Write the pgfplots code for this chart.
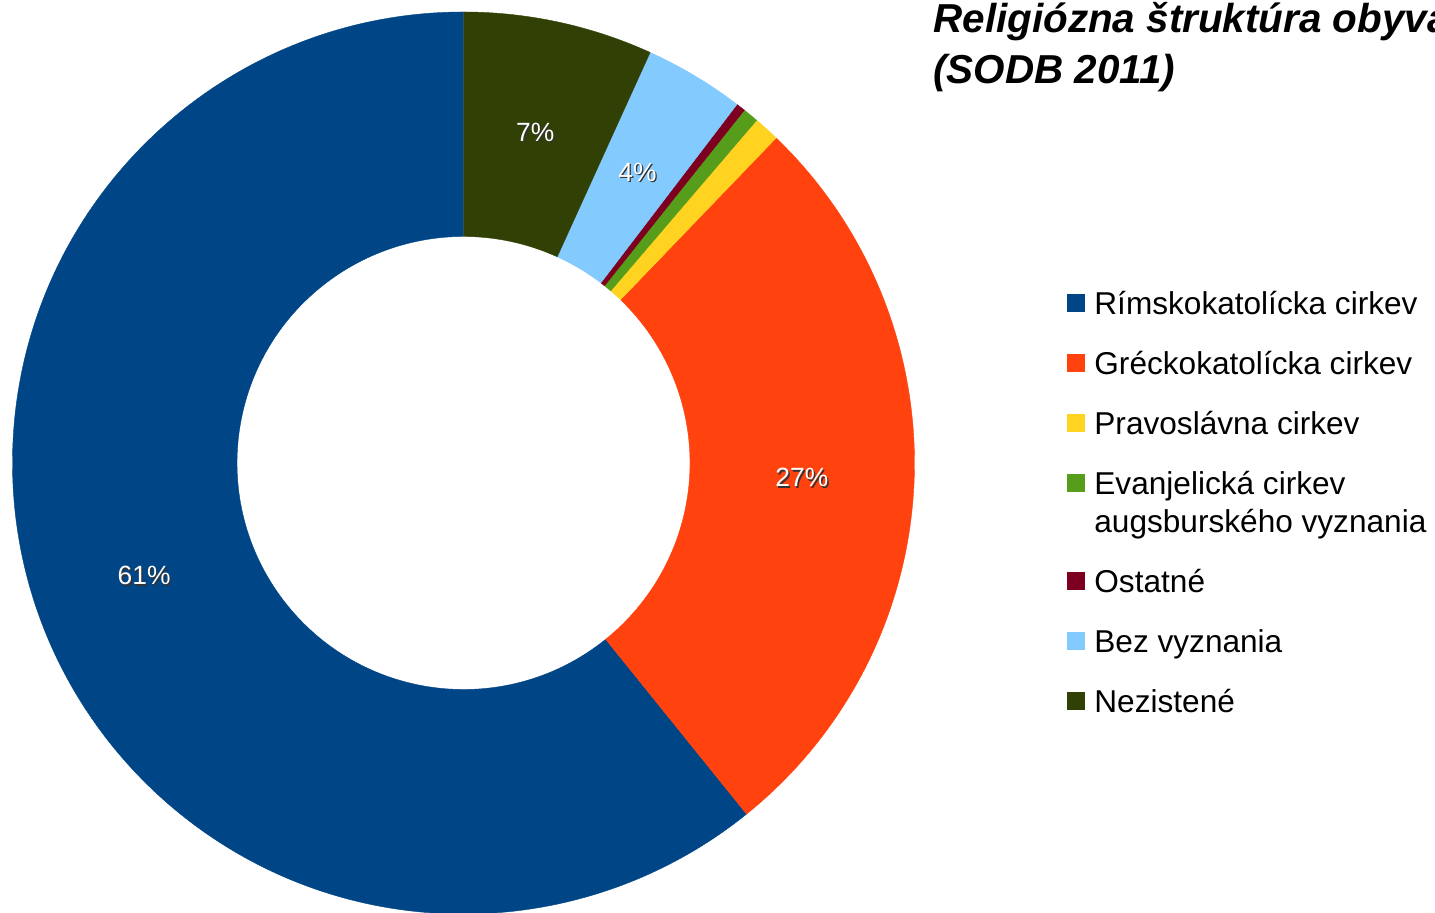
\documentclass[border=0pt]{standalone}
\usepackage{pgfplots}
\pgfplotsset{compat=1.18}
\usepackage{pgfplotstable}
\usepackage{fontspec}
\setmainfont{Liberation Sans}

\definecolor{rimsky}{HTML}{004586}
\definecolor{grecko}{HTML}{FF420E}
\definecolor{pravo}{HTML}{FFD320}
\definecolor{evanj}{HTML}{579D1C}
\definecolor{ostat}{HTML}{7E0021}
\definecolor{bez}{HTML}{83CAFF}
\definecolor{nezist}{HTML}{314004}

% podiel v percentach, poradie proti smeru hodin od vrchu
\pgfplotstableread{
share colour
60.80 rimsky
27.01 grecko
0.93  pravo
0.56  evanj
0.33  ostat
3.58  bez
6.79  nezist
}\religia

\def\pctfont{\fontsize{13.2}{15}\selectfont}
\def\legfont{\fontsize{15.8}{19}\selectfont}
\def\titlefont{\fontsize{20.2}{25}\selectfont\bfseries\itshape}

\begin{document}
\begin{tikzpicture}
\useasboundingbox (0,0) rectangle (717.5pt,456.5pt);
\begin{axis}[
    x=0.5pt, y=0.5pt,
    xmin=0, xmax=1435, ymin=0, ymax=913,
    hide axis,
    at={(0pt,0pt)}, anchor=south west,
]
\pgfplotstablegetrowsof{\religia}
\pgfmathtruncatemacro\last{\pgfplotsretval-1}
\def\cum{0}
\pgfplotsforeachungrouped \i in {0,...,\last}{%
  \pgfplotstablegetelem{\i}{share}\of\religia \let\share\pgfplotsretval
  \pgfplotstablegetelem{\i}{colour}\of\religia \let\col\pgfplotsretval
  \pgfmathsetmacro\a{90+3.6*\cum}
  \pgfmathsetmacro\b{90+3.6*(\cum+\share)}
  \pgfmathsetmacro\m{(\a+\b)/2}
  \pgfmathsetmacro\xo{463.5+451*cos(\a)}
  \pgfmathsetmacro\yo{450+451*sin(\a)}
  \pgfmathsetmacro\xi{463.5+226.5*cos(\b)}
  \pgfmathsetmacro\yi{450+226.5*sin(\b)}
  \edef\temp{\noexpand\fill[\col, draw=\col, line width=0.2pt]
    (axis cs:\xo,\yo) arc[start angle=\a, end angle=\b, radius=225.5pt]
    -- (axis cs:\xi,\yi) arc[start angle=\b, end angle=\a, radius=113.25pt] -- cycle;}
  \temp
  \ifdim\share pt>2pt
    \pgfmathsetmacro\xl{463.5+338.75*cos(\m)}
    \pgfmathsetmacro\yl{450+338.75*sin(\m)}
    \pgfmathtruncatemacro\pct{round(\share)}
    \edef\temp{\noexpand\node[text=black!80, font=\noexpand\pctfont, xshift=0.7pt, yshift=-0.7pt]
        at (axis cs:\xl,\yl) {\pct\noexpand\%};
      \noexpand\node[text=white, font=\noexpand\pctfont] at (axis cs:\xl,\yl) {\pct\noexpand\%};}
    \temp
  \fi
  \pgfmathsetmacro\cum{\cum+\share}
}

% legenda
\fill[rimsky] (axis cs:1067,601) rectangle (axis cs:1085,619);
\fill[grecko] (axis cs:1067,541) rectangle (axis cs:1085,559);
\fill[pravo]  (axis cs:1067,481) rectangle (axis cs:1085,499);
\fill[evanj]  (axis cs:1067,421) rectangle (axis cs:1085,439);
\fill[ostat]  (axis cs:1067,323) rectangle (axis cs:1085,341);
\fill[bez]    (axis cs:1067,263) rectangle (axis cs:1085,281);
\fill[nezist] (axis cs:1067,203) rectangle (axis cs:1085,221);
\begin{scope}[every node/.style={anchor=base west, inner sep=0pt, font=\legfont}]
\node at (axis cs:1094,598.5) {Rímskokatolícka cirkev};
\node at (axis cs:1094,538.5) {Gréckokatolícka cirkev};
\node at (axis cs:1094,478.5) {Pravoslávna cirkev};
\node at (axis cs:1094,418.5) {Evanjelická cirkev};
\node at (axis cs:1094,380.5) {augsburského vyznania};
\node at (axis cs:1094,320.5) {Ostatné};
\node at (axis cs:1094,260.5) {Bez vyznania};
\node at (axis cs:1094,200.5) {Nezistené};
\end{scope}

% titulok (presahuje pravy okraj ako v predlohe)
\node[anchor=base west, inner sep=0pt, font=\titlefont] at (axis cs:933,880) {Religiózna štruktúra obyvateľstva};
\node[anchor=base west, inner sep=0pt, font=\titlefont] at (axis cs:933,829) {(SODB 2011)};
\end{axis}
\end{tikzpicture}
\end{document}
